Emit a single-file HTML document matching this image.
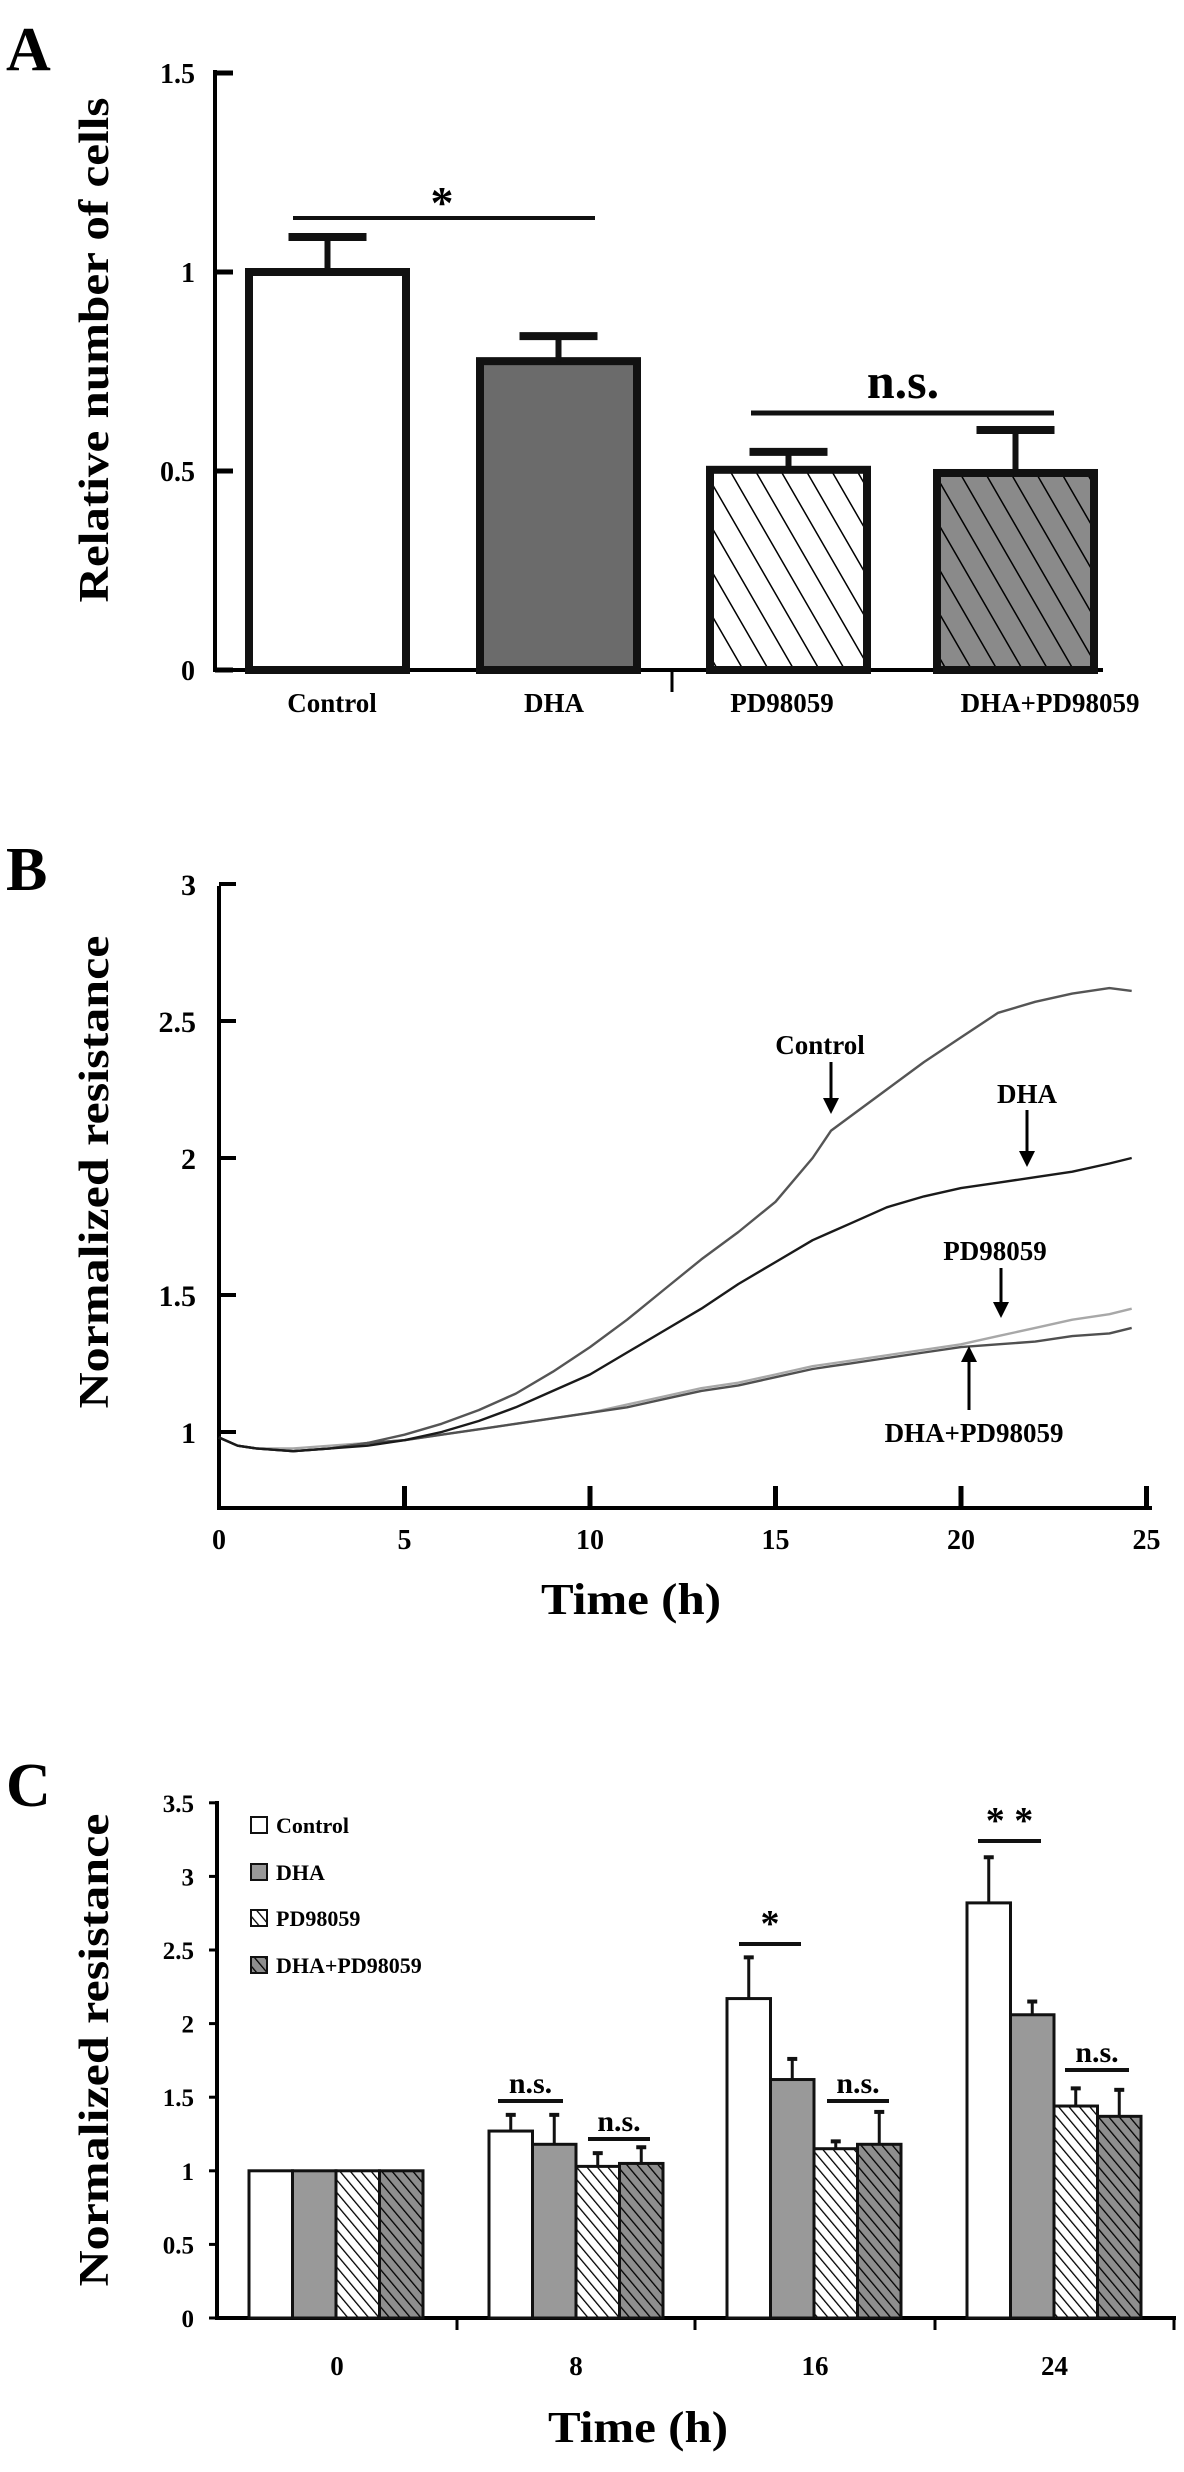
<!DOCTYPE html>
<html><head><meta charset="utf-8"><style>
html,body{margin:0;padding:0;background:#fff;}
svg{display:block;font-family:"Liberation Serif",serif;font-weight:bold;}
</style></head><body>
<svg id="fig" width="1184" height="2472" viewBox="0 0 1184 2472" xmlns="http://www.w3.org/2000/svg">
<defs>
<pattern id="hatchA" patternUnits="userSpaceOnUse" width="22" height="22" patternTransform="rotate(-30)">
<line x1="0" y1="0" x2="0" y2="22" stroke="#000" stroke-width="3"/></pattern>
<pattern id="hatchC" patternUnits="userSpaceOnUse" width="8" height="8" patternTransform="rotate(-40)">
<line x1="0" y1="0" x2="0" y2="8" stroke="#000" stroke-width="2.6"/></pattern>
</defs>
<g id="panelA"></g>
<g id="panelB"></g>
<g id="panelC"></g>
</svg>
<script>
const NS="http://www.w3.org/2000/svg";
function mk(parent,tag,attrs,text){const e=document.createElementNS(NS,tag);for(const k in attrs)e.setAttribute(k,attrs[k]);if(text!==undefined)e.textContent=text;parent.appendChild(e);return e;}

// ---------- Panel A data ----------
const aCategories=["Control","DHA","PD98059","DHA+PD98059"];
const aValues=[1.0,0.776,0.503,0.495];
const aErrors=[0.088,0.063,0.045,0.108];
const aTicks=[0,0.5,1,1.5];
const aTickLabels=["0","0.5","1","1.5"];

// ---------- Panel B data ----------
const bTimes=[0,0.5,1,2,3,4,5,6,7,8,9,10,11,12,13,14,15,16,16.5,17,18,19,20,21,22,23,24,24.6];
const bControl=[0.98,0.95,0.94,0.93,0.94,0.96,0.99,1.03,1.08,1.14,1.22,1.31,1.41,1.52,1.63,1.73,1.84,2.0,2.1,2.15,2.25,2.35,2.44,2.53,2.57,2.6,2.62,2.61];
const bDHA=[0.98,0.95,0.94,0.93,0.94,0.95,0.97,1.0,1.04,1.09,1.15,1.21,1.29,1.37,1.45,1.54,1.62,1.7,1.73,1.76,1.82,1.86,1.89,1.91,1.93,1.95,1.98,2.0];
const bPD=[0.98,0.95,0.94,0.94,0.95,0.96,0.97,0.99,1.01,1.03,1.05,1.07,1.1,1.13,1.16,1.18,1.21,1.24,1.25,1.26,1.28,1.3,1.32,1.35,1.38,1.41,1.43,1.45];
const bDHAPD=[0.98,0.95,0.94,0.93,0.94,0.96,0.97,0.99,1.01,1.03,1.05,1.07,1.09,1.12,1.15,1.17,1.2,1.23,1.24,1.25,1.27,1.29,1.31,1.32,1.33,1.35,1.36,1.38];
const bXTicks=[0,5,10,15,20,25];
const bYTicks=[1,1.5,2,2.5,3];
const bYTickLabels=["1","1.5","2","2.5","3"];

// ---------- Panel C data ----------
const cGroups=["0","8","16","24"];
const cSeries=["Control","DHA","PD98059","DHA+PD98059"];
const cControl=[1.0,1.27,2.17,2.82];
const cDHA=[1.0,1.18,1.62,2.06];
const cPD=[1.0,1.03,1.15,1.44];
const cDHAPD=[1.0,1.05,1.18,1.37];
const cControlErr=[0,0.11,0.28,0.31];
const cDHAErr=[0,0.2,0.14,0.09];
const cPDErr=[0,0.09,0.05,0.12];
const cDHAPDErr=[0,0.11,0.22,0.18];
const cYTicks=[0,0.5,1,1.5,2,2.5,3,3.5];
const cYTickLabels=["0","0.5","1","1.5","2","2.5","3","3.5"];

// ===== Panel A =====
(function(){
const g=document.getElementById('panelA');
const y=v=>670-v*398;
const x0=215;
const barLeft=i=>[249,480,710,937][i];
const bw=157;
let t=mk(g,'text',{x:6,y:70,'font-size':62},'A');


let ax=mk(g,'line',{x1:x0,y1:70,x2:x0,y2:672,stroke:'#000','stroke-width':4});


let xax=mk(g,'line',{x1:x0,y1:670,x2:1103,y2:670,stroke:'#000','stroke-width':4});


let tk=mk(g,'line',{x1:672,y1:672,x2:672,y2:692,stroke:'#000','stroke-width':3});


aTicks.forEach((v,i)=>{
 const l=mk(g,'line',{x1:x0,y1:y(v),x2:x0+18,y2:y(v),stroke:'#000','stroke-width':5});
 
 
 const tt=mk(g,'text',{x:195,y:y(v)+10,'text-anchor':'end','font-size':28},aTickLabels[i]);
 
 
});
const fills=['#fff','#6b6b6b','#fff','#8a8a8a'];
aValues.forEach((v,i)=>{
 const xl=barLeft(i), top=y(v);
 const r=mk(g,'rect',{x:xl,y:top,width:bw,height:670-top,fill:fills[i],stroke:'none'});
 
 
 if(i>=2){const h=mk(g,'rect',{x:xl,y:top,width:bw,height:670-top,fill:'url(#hatchA)'});
  
  }
 const o=mk(g,'rect',{x:xl,y:top,width:bw,height:670-top,fill:'none',stroke:'#111','stroke-width':8});
 
 
 const cx=xl+bw/2, et=y(v+aErrors[i]);
 const e=mk(g,'line',{x1:cx,y1:top,x2:cx,y2:et,stroke:'#111','stroke-width':6});
 
 
 const c=mk(g,'line',{x1:cx-39,y1:et,x2:cx+39,y2:et,stroke:'#111','stroke-width':8});
 
 
 const lb=mk(g,'text',{x:[332,554,782,1050][i],y:712,'text-anchor':'middle','font-size':27},aCategories[i]);
 
 
});
let s1=mk(g,'line',{x1:293,y1:218,x2:595,y2:218,stroke:'#111','stroke-width':4});


let st=mk(g,'text',{x:442,y:218,'text-anchor':'middle','font-size':46},'*');


let s2=mk(g,'line',{x1:751,y1:413,x2:1054,y2:413,stroke:'#111','stroke-width':5});


let ns=mk(g,'text',{x:903,y:398,'text-anchor':'middle','font-size':50},'n.s.');


let yl=mk(g,'text',{x:0,y:0,'text-anchor':'middle','font-size':42,transform:'translate(108,350) rotate(-90)',textLength:505,lengthAdjust:'spacingAndGlyphs'},'Relative number of cells');


})();

// ===== Panel B =====
(function(){
const g=document.getElementById('panelB');
const x=t=>219+t*37.1;
const y=v=>1432-(v-1)*274;
let t=mk(g,'text',{x:6,y:890,'font-size':62},'B');


let ax=mk(g,'line',{x1:219,y1:886,x2:219,y2:1510,stroke:'#000','stroke-width':4});


let xax=mk(g,'line',{x1:217,y1:1508,x2:1152,y2:1508,stroke:'#000','stroke-width':4});


bYTicks.forEach((v,i)=>{
 const l=mk(g,'line',{x1:219,y1:y(v),x2:236,y2:y(v),stroke:'#000','stroke-width':4});
 
 
 const tt=mk(g,'text',{x:196,y:y(v)+11,'text-anchor':'end','font-size':30},bYTickLabels[i]);
 
 
});
bXTicks.forEach(v=>{
 if(v>0){const l=mk(g,'line',{x1:x(v),y1:1508,x2:x(v),y2:1486,stroke:'#000','stroke-width':5});
 
 }
 const tt=mk(g,'text',{x:x(v),y:1549,'text-anchor':'middle','font-size':28},String(v));
 
 
});
const series=[[bPD,'#a8a8a8','pd98059'],[bDHAPD,'#505050','dha-pd98059'],[bControl,'#555','control'],[bDHA,'#1a1a1a','dha']];
series.forEach(s=>{
 const d=bTimes.map((tt,i)=>(i?'L':'M')+x(tt).toFixed(1)+','+y(s[0][i]).toFixed(1)).join(' ');
 const p=mk(g,'path',{d:d,fill:'none',stroke:s[1],'stroke-width':2.4,'stroke-linejoin':'round'});
 
 
});
function arrow(x1,y1,x2,y2,name){
 const l=mk(g,'line',{x1:x1,y1:y1,x2:x2,y2:y2-(y2>y1?10:-10),stroke:'#000','stroke-width':3});
 
 
 const dir=y2>y1?1:-1;
 const h=mk(g,'polygon',{points:`${x2-8},${y2-16*dir} ${x2+8},${y2-16*dir} ${x2},${y2}`,fill:'#000'});
 
 
}
function lab(txt,xx,yy,name){const e=mk(g,'text',{x:xx,y:yy,'text-anchor':'middle','font-size':27},txt);
 
 }
lab('Control',820,1054,'label-control'); arrow(831,1062,831,1114,'arrow-control');
lab('DHA',1027,1103,'label-dha'); arrow(1027,1110,1027,1167,'arrow-dha');
lab('PD98059',995,1260,'label-pd98059'); arrow(1001,1268,1001,1318,'arrow-pd98059');
lab('DHA+PD98059',974,1442,'label-dha-pd98059'); arrow(969,1410,969,1346,'arrow-dha-pd98059');
let xt=mk(g,'text',{x:631,y:1614,'text-anchor':'middle','font-size':44,textLength:180,lengthAdjust:'spacingAndGlyphs'},'Time (h)');


let yl=mk(g,'text',{x:0,y:0,'text-anchor':'middle','font-size':42,transform:'translate(108,1172) rotate(-90)',textLength:473,lengthAdjust:'spacingAndGlyphs'},'Normalized resistance');


})();

// ===== Panel C =====
(function(){
const g=document.getElementById('panelC');
const y=v=>2318-v*147.2;
const seps=[217,457,695,935,1174];
const bw=43.5;
const barX=(gi,si)=>seps[gi]+32+si*bw;
let t=mk(g,'text',{x:6,y:1806,'font-size':62},'C');


let ax=mk(g,'line',{x1:217,y1:1801,x2:217,y2:2320,stroke:'#000','stroke-width':4});


let xax=mk(g,'line',{x1:215,y1:2318,x2:1176,y2:2318,stroke:'#000','stroke-width':4});


seps.slice(1).forEach(s=>{const l=mk(g,'line',{x1:s,y1:2318,x2:s,y2:2330,stroke:'#000','stroke-width':3});
 
 });
cYTicks.forEach((v,i)=>{
 const l=mk(g,'line',{x1:209,y1:y(v),x2:217,y2:y(v),stroke:'#000','stroke-width':3});
 
 
 const tt=mk(g,'text',{x:194,y:y(v)+9,'text-anchor':'end','font-size':25},cYTickLabels[i]);
 
 
});
const vals=[cControl,cDHA,cPD,cDHAPD];
const errs=[cControlErr,cDHAErr,cPDErr,cDHAPDErr];
const fills=['#fff','#999','#fff','#8e8e8e'];
cGroups.forEach((gl,gi)=>{
 vals.forEach((arr,si)=>{
  const xl=barX(gi,si), top=y(arr[gi]);
  const r=mk(g,'rect',{x:xl,y:top,width:bw,height:2318-top,fill:fills[si]});
  
  
  if(si>=2){const h=mk(g,'rect',{x:xl,y:top,width:bw,height:2318-top,fill:'url(#hatchC)'});
   
   }
  const o=mk(g,'rect',{x:xl,y:top,width:bw,height:2318-top,fill:'none',stroke:'#111','stroke-width':3});
  
  
  if(errs[si][gi]>0){
   const cx=xl+bw/2, et=y(arr[gi]+errs[si][gi]);
   const e=mk(g,'line',{x1:cx,y1:top,x2:cx,y2:et,stroke:'#111','stroke-width':3});
   
   
   const c=mk(g,'line',{x1:cx-5,y1:et,x2:cx+5,y2:et,stroke:'#111','stroke-width':4});
   
   
  }
 });
 const tt=mk(g,'text',{x:(seps[gi]+seps[gi+1])/2,y:2375,'text-anchor':'middle','font-size':27},gl);
 
 
});
function sig(x1,x2,ly,txt,fs){
 const l=mk(g,'line',{x1:x1,y1:ly,x2:x2,y2:ly,stroke:'#111','stroke-width':4});
 
 
 const e=mk(g,'text',{x:(x1+x2)/2,y:ly-8,'text-anchor':'middle','font-size':fs},txt);
 
 
}
sig(498,563,2101,'n.s.',30); sig(588,650,2139,'n.s.',30);
sig(739,801,1944,'*',38); sig(827,889,2101,'n.s.',30);
sig(978,1041,1841,'* *',38); sig(1065,1129,2070,'n.s.',30);
cSeries.forEach((s,i)=>{
 const yy=[1826,1873,1919,1966][i];
 const r=mk(g,'rect',{x:251,y:yy-9,width:16,height:16,fill:fills[i]});
 
 
 if(i>=2){const h=mk(g,'rect',{x:251,y:yy-9,width:16,height:16,fill:'url(#hatchC)'});
  
  }
 const o=mk(g,'rect',{x:251,y:yy-9,width:16,height:16,fill:'none',stroke:'#111','stroke-width':2});
 
 
 const tt=mk(g,'text',{x:276,y:yy+7,'font-size':22},s);
 
 
});
let xt=mk(g,'text',{x:638,y:2442,'text-anchor':'middle','font-size':44,textLength:180,lengthAdjust:'spacingAndGlyphs'},'Time (h)');


let yl=mk(g,'text',{x:0,y:0,'text-anchor':'middle','font-size':42,transform:'translate(108,2050) rotate(-90)',textLength:473,lengthAdjust:'spacingAndGlyphs'},'Normalized resistance');


})();
</script>
</body></html>
